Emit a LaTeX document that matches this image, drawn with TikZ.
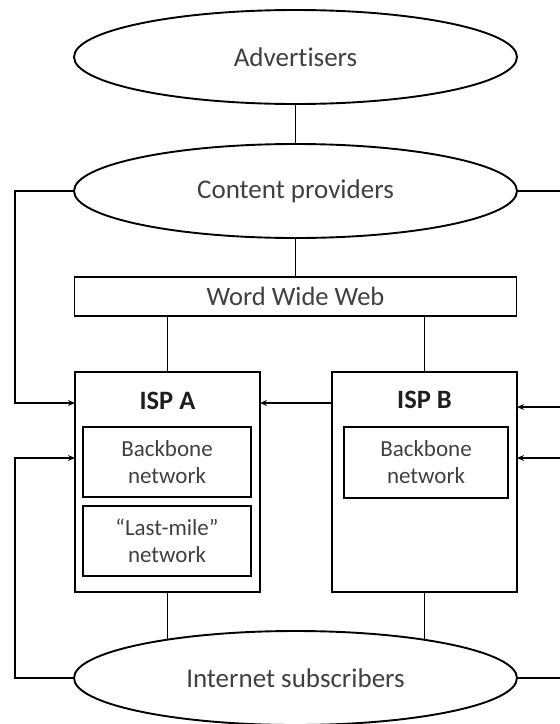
\documentclass[tikz,border=0pt]{standalone}
\usepackage{fontspec}
\setmainfont{Carlito}[Ligatures=NoCommon]
\usetikzlibrary{shapes.geometric,arrows.meta}
\definecolor{txtgray}{HTML}{404040}
\definecolor{txtdark}{HTML}{1E1E1E}
\begin{document}
\begin{tikzpicture}[x=1pt,y=-1pt,
  every node/.style={inner sep=0pt,outer sep=0pt},
  party/.style={ellipse,draw=black,line width=1.9pt,fill=white,
    minimum width=443pt,minimum height=94pt,text=txtgray,
    font=\fontsize{27}{31}\selectfont},
  webbox/.style={rectangle,draw=black,line width=1.9pt,fill=white,
    minimum width=442pt,minimum height=39pt,text=txtgray,
    font=\fontsize{26.5}{30}\selectfont},
  ispbox/.style={rectangle,draw=black,line width=1.9pt,
    minimum width=185pt,minimum height=220pt},
  isptitle/.style={text=txtdark,font=\fontsize{26.5}{30}\selectfont\bfseries},
  netbox/.style={rectangle,draw=black,line width=2.1pt,
    minimum height=70pt,text=txtgray,align=center,
    font=\fontsize{23}{27}\selectfont},
  conn/.style={draw=black,line width=1.9pt},
  arr/.style={conn,-{Stealth[length=7pt,width=6pt]}}
]
\useasboundingbox (0,0) rectangle (560,724);
\clip (0,0) rectangle (560,724);

% parties
\node[party] (adv) at (295.5,57) {Advertisers};
\node[party] (cp)  at (295.5,191) {Content providers};
\node[party] (is)  at (295.5,678) {Internet subscribers};

% web layer
\node[webbox] (www) at (295.5,296.5) {Word Wide Web};

% access providers
\node[ispbox] (ispA) at (167.5,482) {};
\node[ispbox] (ispB) at (424.5,482) {};
\node[isptitle] (tA) at (167.5,401) {ISP A};
\node[isptitle] (tB) at (424.5,400) {ISP B};
\node[netbox,minimum width=168pt] (bbA) at (167,462) {Backbone\\network};
\node[netbox,minimum width=168pt] (lmA) at (167,541) {“Last-mile”\\network};
\node[netbox,minimum width=164pt,minimum height=71pt] (bbB) at (426,462.5) {Backbone\\network};

% reference levels for the side loops
\coordinate (L) at (15,0);
\coordinate (R) at (575,0);
\coordinate (yA1) at (0,403);
\coordinate (yA2) at (0,458);
\coordinate (yB1) at (0,407);
\coordinate (yB2) at (0,458);

% vertical links
\draw[conn] (adv.south) -- (cp.north);
\draw[conn] (cp.south) -- (www.north);
\draw[conn] (www.south -| ispA.north) -- (ispA.north);
\draw[conn] (www.south -| ispB.north) -- (ispB.north);
\draw[conn] (ispA.south) -- (ispA.south |- is.163.3);
\draw[conn] (ispB.south) -- (ispB.south |- is.16.7);

% ISP B to ISP A
\draw[arr] (ispB.west |- yA1) -- (ispA.east |- yA1);

% left loops
\draw[arr] (cp.west) -| (L |- yA1) -- (ispA.west |- yA1);
\draw[arr] (is.west) -| (L |- yA2) -- (ispA.west |- yA2);

% right loops
\draw[arr] (cp.east) -| (R |- yB1) -- (ispB.east |- yB1);
\draw[arr] (is.east) -| (R |- yB2) -- (ispB.east |- yB2);
\end{tikzpicture}
\end{document}
